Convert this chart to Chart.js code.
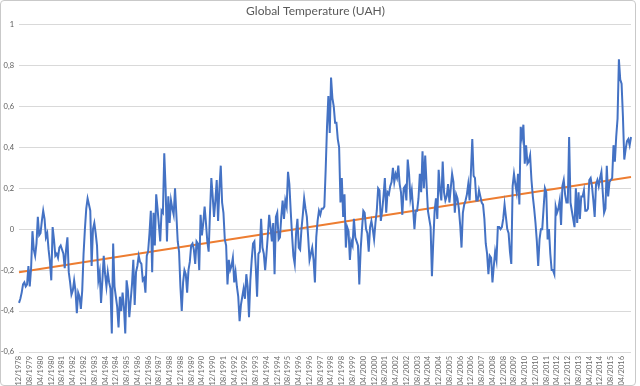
<!DOCTYPE html>
<html>
<head>
<meta charset="utf-8">
<script src="https://cdn.jsdelivr.net/npm/chart.js@4"></script>
<style>
  html, body { margin: 0; padding: 0; background: #ffffff; }
  #wrap { position: relative; width: 640px; height: 386px; }
  #frame { position: absolute; left: 0; top: 0; width: 634px; height: 384px; border: 1px solid #c9c9c9; border-radius: 4px; pointer-events: none; }
  canvas { position: absolute; left: 0; top: 0; }
</style>
</head>
<body>
<div id="wrap">
  <canvas id="c" width="640" height="386"></canvas>
  <div id="frame"></div>
</div>
<script>
// ---- data (UAH global temperature anomaly, monthly, from 12/1978) ----
const startYear = 1978;
const startMonth = 12;
const values1978 = [-0.36];
const values1979 = [-0.34,-0.31,-0.27,-0.26,-0.28,-0.27,-0.18,-0.28,-0.19,-0.01,-0.10,-0.13];
const values1980 = [-0.07,0.06,-0.03,-0.02,0.04,0.09,0.05,-0.04,-0.02,-0.10,-0.16,-0.25];
const values1981 = [0.01,-0.05,-0.13,-0.12,-0.14,-0.09,-0.08,-0.10,-0.12,-0.19,-0.10,-0.04];
const values1982 = [-0.21,-0.26,-0.32,-0.30,-0.25,-0.30,-0.41,-0.31,-0.33,-0.39,-0.30,-0.12];
const values1983 = [0.00,0.10,0.15,0.12,0.09,-0.18,0.00,0.03,-0.02,-0.08,-0.25,-0.21];
const values1984 = [-0.36,-0.25,-0.13,-0.22,-0.28,-0.21,-0.26,-0.29,-0.51,-0.07,-0.28,-0.33];
const values1985 = [-0.38,-0.48,-0.33,-0.40,-0.31,-0.38,-0.51,-0.25,-0.30,-0.43,-0.35,-0.27];
const values1986 = [-0.15,-0.37,-0.21,-0.18,-0.13,-0.16,-0.17,-0.25,-0.24,-0.31,-0.13,-0.11];
const values1987 = [-0.02,0.09,-0.21,0.08,-0.08,0.17,0.10,0.02,-0.06,0.09,0.08,0.37];
const values1988 = [0.20,-0.06,0.16,0.03,0.14,0.10,0.07,0.20,0.07,-0.06,-0.11,-0.28];
const values1989 = [-0.40,-0.26,-0.20,-0.22,-0.31,-0.20,-0.16,-0.08,-0.07,-0.10,-0.17,-0.06];
const values1990 = [-0.07,-0.20,0.07,-0.03,0.03,0.11,0.03,-0.06,-0.11,0.08,0.25,0.16];
const values1991 = [0.06,0.14,0.24,0.04,0.20,0.31,0.13,0.08,-0.05,-0.08,-0.27,-0.15];
const values1992 = [-0.20,-0.18,-0.14,-0.26,-0.21,-0.28,-0.33,-0.45,-0.37,-0.33,-0.29,-0.34];
const values1993 = [-0.22,-0.28,-0.43,-0.25,-0.15,-0.07,-0.06,-0.18,-0.33,-0.12,-0.11,0.05];
const values1994 = [-0.09,-0.12,-0.20,-0.12,-0.03,0.07,0.01,-0.06,0.03,-0.22,0.06,0.08];
const values1995 = [-0.05,-0.04,0.06,0.14,0.05,0.14,0.11,0.28,0.22,0.09,-0.03,-0.13];
const values1996 = [-0.17,-0.02,0.05,-0.09,-0.10,0.00,0.07,0.15,0.10,0.06,-0.04,-0.15];
const values1997 = [-0.12,-0.09,-0.15,-0.26,-0.04,0.04,0.09,0.07,0.10,0.10,0.11,0.29];
const values1998 = [0.50,0.65,0.47,0.74,0.64,0.60,0.52,0.52,0.44,0.40,0.13,0.25];
const values1999 = [0.06,0.17,-0.09,0.01,-0.01,-0.15,-0.06,-0.08,0.05,-0.04,-0.06,-0.08];
const values2000 = [-0.27,-0.10,0.00,0.09,0.08,0.00,-0.02,-0.11,0.01,0.04,0.00,-0.05];
const values2001 = [0.03,0.09,0.20,0.19,0.04,0.09,0.16,0.25,0.08,0.18,0.17,0.21];
const values2002 = [0.23,0.30,0.23,0.27,0.25,0.31,0.22,0.18,0.07,0.20,0.21,0.14];
const values2003 = [0.34,0.27,0.15,0.19,0.10,0.00,0.09,0.09,0.15,0.27,0.18,0.38];
const values2004 = [0.20,0.36,0.22,0.09,0.05,0.01,-0.23,-0.06,0.09,0.15,0.05,0.29];
const values2005 = [0.19,0.14,0.33,0.18,0.14,0.16,0.22,0.13,0.20,0.27,0.23,0.08];
const values2006 = [0.17,0.15,0.10,0.02,-0.09,0.08,0.12,0.14,0.17,0.22,0.14,0.28];
const values2007 = [0.44,0.26,0.25,0.14,0.14,0.19,0.16,0.13,0.12,0.05,-0.07,-0.12];
const values2008 = [-0.22,-0.13,-0.14,-0.26,-0.18,-0.11,-0.15,0.01,0.01,0.00,0.01,0.05];
const values2009 = [0.12,0.06,0.00,-0.02,-0.11,-0.17,0.21,0.27,0.22,0.18,0.27,0.12];
const values2010 = [0.50,0.45,0.51,0.32,0.41,0.32,0.33,0.36,0.24,0.16,0.10,0.03];
const values2011 = [-0.06,-0.18,-0.05,0.00,0.00,0.10,0.20,0.18,-0.05,0.00,-0.12,-0.20];
const values2012 = [-0.20,-0.22,0.11,0.08,0.10,0.14,0.02,0.21,0.24,0.17,0.13,0.13];
const values2013 = [0.45,0.13,0.09,0.05,0.01,0.20,0.03,0.18,0.05,0.16,0.16,0.19];
const values2014 = [0.09,0.09,0.10,0.24,0.25,0.21,0.14,0.06,0.22,0.24,0.21,0.25];
const values2015 = [0.28,0.18,0.08,0.10,0.31,0.16,0.23,0.24,0.25,0.41,0.33,0.45];
const values2016 = [0.54,0.83,0.73,0.71,0.55,0.34,0.39,0.43,0.44,0.41,0.45];

// linear trend line end values
const trendEnds = [-0.21, 0.255];

// y-axis tick values
const yTicks = [1, 0.8, 0.6, 0.4, 0.2, 0, -0.2, -0.4, -0.6];
const labelEvery = 8; // a category label every 8 months

const series = [].concat(
  values1978, values1979, values1980, values1981, values1982, values1983, values1984,
  values1985, values1986, values1987, values1988, values1989, values1990, values1991,
  values1992, values1993, values1994, values1995, values1996, values1997, values1998,
  values1999, values2000, values2001, values2002, values2003, values2004, values2005,
  values2006, values2007, values2008, values2009, values2010, values2011, values2012,
  values2013, values2014, values2015, values2016
);

// categories: month labels "MM/YYYY"
const categories = [];
{
  let y = startYear, m = startMonth;
  for (let i = 0; i < series.length; i++) {
    categories.push(String(m).padStart(2, '0') + '/' + y);
    m++; if (m > 12) { m = 1; y++; }
  }
}

const trend = series.map(() => null);
trend[0] = trendEnds[0];
trend[trend.length - 1] = trendEnds[1];

const fmt = v => String(Number(v.toFixed(1))).replace('.', ',');

new Chart(document.getElementById('c'), {
  type: 'line',
  data: {
    labels: categories,
    datasets: [
      {
        label: 'UAH',
        data: series,
        borderColor: '#4472C4',
        borderWidth: 2,
        pointRadius: 0,
        tension: 0,
        fill: false
      },
      {
        label: 'Trend',
        data: trend,
        borderColor: '#ED7D31',
        borderWidth: 2,
        pointRadius: 0,
        spanGaps: true,
        fill: false
      }
    ]
  },
  options: {
    responsive: false,
    animation: false,
    layout: { padding: { left: 0, right: 9, top: 0, bottom: 0 } },
    plugins: {
      legend: { display: false },
      tooltip: { enabled: false },
      title: {
        display: true,
        text: 'Global Temperature (UAH)',
        color: '#595959',
        font: { family: 'Lato', size: 12, weight: 'normal', lineHeight: 1.2 },
        padding: { top: 4, bottom: 6 }
      }
    },
    scales: {
      x: {
        type: 'category',
        offset: false,
        grid: { display: false, drawTicks: false },
        border: { display: false },
        ticks: {
          autoSkip: false,
          maxRotation: 90,
          minRotation: 90,
          padding: 4,
          color: '#6b6b6b',
          font: { family: 'Lato', size: 7.5 },
          callback: function (val, index) {
            return index % labelEvery === 0 ? categories[index] : null;
          }
        },
        afterFit: function (s) { s.height = 34; }
      },
      y: {
        min: -0.6,
        max: 1,
        afterBuildTicks: function (s) { s.ticks = yTicks.map(v => ({ value: v })); },
        grid: { color: '#d9d9d9', lineWidth: 1, drawTicks: false },
        border: { display: false },
        ticks: {
          padding: 5,
          color: '#595959',
          font: { family: 'Lato', size: 7.5 },
          callback: v => fmt(v)
        },
        afterFit: function (s) { s.width = 19; }
      }
    }
  }
});
</script>
</body>
</html>
